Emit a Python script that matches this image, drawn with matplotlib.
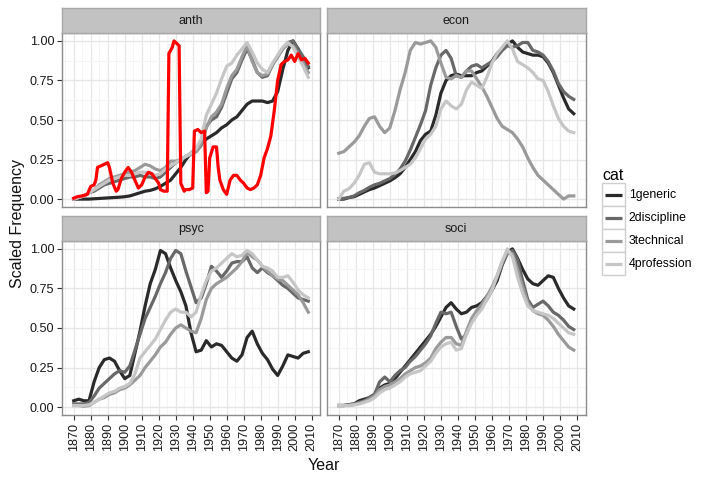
import matplotlib
matplotlib.use('Agg')
import matplotlib.pyplot as plt
from matplotlib.legend_handler import HandlerLine2D
from matplotlib.patches import Rectangle
from matplotlib.lines import Line2D
import numpy as np

plt.rcParams['font.family'] = ['Liberation Sans', 'DejaVu Sans']

# common year grid (every 3 years)
YEARS = list(range(1870, 2009, 3))

CATS = ['1generic', '2discipline', '3technical', '4profession']
PANELS = ['anth', 'econ', 'psyc', 'soci']

anth_generic = [0.0, 0.0, 0.0, 0.0, 0.002, 0.004, 0.006, 0.008, 0.01, 0.012, 0.015, 0.02, 0.03, 0.04,
                0.05, 0.055, 0.065, 0.08, 0.1, 0.12, 0.16, 0.2, 0.25, 0.29, 0.32, 0.35, 0.38, 0.4, 0.42,
                0.45, 0.47, 0.5, 0.52, 0.56, 0.6, 0.62, 0.62, 0.62, 0.61, 0.62, 0.68, 0.82, 0.94, 1.0,
                0.95, 0.88, 0.83]
anth_discipline = [0.0, 0.01, 0.02, 0.04, 0.05, 0.07, 0.09, 0.1, 0.11, 0.12, 0.13, 0.14, 0.14, 0.15,
                   0.14, 0.14, 0.13, 0.14, 0.17, 0.2, 0.23, 0.25, 0.27, 0.29, 0.3, 0.34, 0.46, 0.5, 0.52,
                   0.58, 0.67, 0.76, 0.8, 0.88, 0.95, 0.88, 0.8, 0.77, 0.78, 0.85, 0.9, 0.95, 0.99, 1.0,
                   0.95, 0.9, 0.84]
anth_technical = [0.0, 0.01, 0.02, 0.04, 0.06, 0.09, 0.11, 0.13, 0.14, 0.15, 0.16, 0.17, 0.18, 0.2,
                  0.22, 0.21, 0.19, 0.18, 0.2, 0.24, 0.24, 0.25, 0.27, 0.28, 0.3, 0.35, 0.45, 0.52, 0.55,
                  0.6, 0.7, 0.78, 0.82, 0.9, 0.97, 0.87, 0.8, 0.78, 0.79, 0.85, 0.9, 0.95, 0.98, 0.97,
                  0.92, 0.86, 0.8]
anth_profession = [0.0, 0.01, 0.02, 0.04, 0.06, 0.08, 0.1, 0.12, 0.13, 0.14, 0.15, 0.15, 0.16, 0.17,
                   0.17, 0.16, 0.15, 0.16, 0.19, 0.21, 0.23, 0.25, 0.27, 0.29, 0.32, 0.38, 0.53, 0.6, 0.67,
                   0.76, 0.84, 0.86, 0.91, 0.95, 0.99, 0.93, 0.86, 0.82, 0.8, 0.86, 0.91, 0.96, 0.99, 0.96,
                   0.9, 0.84, 0.77]

econ_generic = [0.0, 0.0, 0.01, 0.015, 0.03, 0.045, 0.06, 0.07, 0.085, 0.1, 0.115, 0.135, 0.16, 0.2,
                0.25, 0.3, 0.37, 0.41, 0.43, 0.53, 0.67, 0.75, 0.78, 0.79, 0.78, 0.78, 0.78, 0.8, 0.81,
                0.84, 0.87, 0.92, 0.95, 0.98, 1.0, 0.96, 0.93, 0.92, 0.91, 0.91, 0.9, 0.86, 0.8, 0.72,
                0.64, 0.57, 0.54]
econ_discipline = [0.0, 0.005, 0.01, 0.02, 0.04, 0.055, 0.075, 0.09, 0.1, 0.115, 0.13, 0.155, 0.19, 0.24,
                   0.31, 0.39, 0.47, 0.56, 0.72, 0.83, 0.91, 0.94, 0.89, 0.78, 0.77, 0.81, 0.84, 0.85, 0.83,
                   0.85, 0.87, 0.9, 0.94, 0.97, 0.96, 0.97, 0.99, 0.99, 0.94, 0.93, 0.91, 0.87, 0.81, 0.73,
                   0.68, 0.65, 0.63]
econ_technical = [0.29, 0.3, 0.33, 0.36, 0.4, 0.46, 0.51, 0.52, 0.46, 0.42, 0.45, 0.56, 0.69, 0.8,
                  0.94, 0.99, 0.98, 0.99, 1.0, 0.96, 0.86, 0.77, 0.76, 0.78, 0.77, 0.81, 0.81, 0.76, 0.71,
                  0.65, 0.58, 0.51, 0.46, 0.44, 0.42, 0.38, 0.33, 0.26, 0.2, 0.15, 0.12, 0.09, 0.06, 0.03,
                  0.0, 0.02, 0.02]
econ_profession = [0.0, 0.05, 0.065, 0.1, 0.15, 0.22, 0.23, 0.17, 0.16, 0.16, 0.16, 0.165, 0.18, 0.2,
                   0.22, 0.26, 0.32, 0.38, 0.41, 0.46, 0.57, 0.62, 0.59, 0.57, 0.6, 0.69, 0.74, 0.72, 0.7,
                   0.77, 0.86, 0.92, 0.96, 1.0, 0.95, 0.87, 0.85, 0.83, 0.8, 0.76, 0.75, 0.68, 0.59, 0.51,
                   0.46, 0.43, 0.42]

psyc_generic = [0.04, 0.05, 0.04, 0.04, 0.16, 0.25, 0.3, 0.31, 0.29, 0.23, 0.18, 0.2, 0.34, 0.48,
                0.64, 0.78, 0.87, 0.99, 0.97, 0.88, 0.8, 0.73, 0.64, 0.47, 0.35, 0.36, 0.42, 0.38, 0.4,
                0.39, 0.35, 0.31, 0.29, 0.33, 0.44, 0.48, 0.4, 0.34, 0.3, 0.24, 0.2, 0.26, 0.33, 0.32,
                0.31, 0.34, 0.35]
psyc_discipline = [0.02, 0.02, 0.02, 0.03, 0.07, 0.12, 0.15, 0.18, 0.21, 0.23, 0.22, 0.26, 0.36, 0.46,
                   0.56, 0.63, 0.7, 0.78, 0.85, 0.94, 0.99, 0.97, 0.86, 0.76, 0.66, 0.69, 0.78, 0.89, 0.86,
                   0.82, 0.86, 0.91, 0.92, 0.92, 0.95, 0.88, 0.85, 0.88, 0.85, 0.83, 0.8, 0.77, 0.75, 0.72,
                   0.69, 0.68, 0.67]
psyc_technical = [0.01, 0.01, 0.005, 0.01, 0.03, 0.05, 0.06, 0.08, 0.09, 0.11, 0.12, 0.14, 0.17, 0.2,
                  0.25, 0.29, 0.33, 0.38, 0.41, 0.46, 0.5, 0.52, 0.5, 0.48, 0.47, 0.56, 0.68, 0.75, 0.78,
                  0.8, 0.82, 0.85, 0.88, 0.92, 0.98, 0.95, 0.93, 0.89, 0.86, 0.83, 0.81, 0.8, 0.77, 0.74,
                  0.71, 0.66, 0.6]
psyc_profession = [0.01, 0.01, 0.01, 0.015, 0.03, 0.05, 0.07, 0.09, 0.1, 0.12, 0.13, 0.15, 0.21, 0.31,
                   0.35, 0.39, 0.43, 0.49, 0.55, 0.6, 0.62, 0.6, 0.6, 0.57, 0.6, 0.71, 0.8, 0.86, 0.88,
                   0.91, 0.94, 0.97, 0.95, 0.96, 0.99, 0.97, 0.93, 0.89, 0.88, 0.86, 0.82, 0.82, 0.83, 0.79,
                   0.74, 0.71, 0.69]

soci_generic = [0.01, 0.01, 0.015, 0.02, 0.04, 0.05, 0.06, 0.08, 0.12, 0.14, 0.15, 0.18, 0.22, 0.26,
                0.3, 0.34, 0.38, 0.42, 0.46, 0.51, 0.57, 0.63, 0.66, 0.62, 0.59, 0.6, 0.63, 0.64, 0.66,
                0.7, 0.74, 0.8, 0.9, 0.98, 1.0, 0.94, 0.87, 0.81, 0.78, 0.77, 0.8, 0.83, 0.82, 0.75,
                0.69, 0.64, 0.62]
soci_discipline = [0.01, 0.01, 0.015, 0.02, 0.03, 0.04, 0.06, 0.08, 0.16, 0.19, 0.16, 0.2, 0.23, 0.25,
                   0.29, 0.32, 0.36, 0.4, 0.45, 0.53, 0.6, 0.59, 0.6, 0.51, 0.43, 0.46, 0.55, 0.6, 0.64,
                   0.68, 0.74, 0.82, 0.9, 0.97, 0.99, 0.93, 0.8, 0.68, 0.63, 0.65, 0.67, 0.64, 0.6, 0.58,
                   0.55, 0.51, 0.49]
soci_technical = [0.01, 0.01, 0.01, 0.015, 0.025, 0.035, 0.05, 0.07, 0.11, 0.13, 0.14, 0.16, 0.18, 0.21,
                  0.23, 0.25, 0.26, 0.28, 0.31, 0.37, 0.41, 0.44, 0.44, 0.4, 0.39, 0.48, 0.56, 0.61, 0.65,
                  0.7, 0.76, 0.83, 0.92, 0.98, 0.97, 0.87, 0.76, 0.66, 0.61, 0.59, 0.58, 0.55, 0.51, 0.46,
                  0.42, 0.38, 0.36]
soci_profession = [0.01, 0.01, 0.01, 0.015, 0.02, 0.03, 0.04, 0.06, 0.09, 0.11, 0.12, 0.14, 0.16, 0.19,
                   0.21, 0.22, 0.23, 0.26, 0.29, 0.34, 0.38, 0.4, 0.41, 0.36, 0.37, 0.46, 0.53, 0.58, 0.62,
                   0.68, 0.74, 0.83, 0.92, 1.0, 0.95, 0.82, 0.72, 0.64, 0.61, 0.6, 0.59, 0.58, 0.56, 0.53,
                   0.5, 0.47, 0.46]

# extra red series, anth panel only
red_years = [1870, 1872, 1875, 1878, 1880, 1882, 1883, 1884, 1886, 1888, 1890, 1891, 1893, 1895, 1896,
             1898, 1900, 1902, 1904, 1906, 1908, 1910, 1912, 1914, 1916, 1918, 1920, 1921, 1923, 1925,
             1926, 1928, 1929, 1931, 1932, 1933, 1935, 1936, 1938, 1940, 1941, 1943, 1945, 1947, 1948,
             1949, 1950, 1952, 1954, 1955, 1956, 1958, 1960, 1962, 1964, 1966, 1968, 1970, 1972, 1974,
             1976, 1978, 1980, 1982, 1984, 1986, 1988, 1990, 1992, 1994, 1996, 1998, 2000, 2002, 2004,
             2006, 2008]
red_values = [0.005, 0.015, 0.02, 0.03, 0.08, 0.09, 0.12, 0.2, 0.21, 0.22, 0.23, 0.2, 0.1, 0.05, 0.06,
              0.13, 0.17, 0.2, 0.17, 0.12, 0.07, 0.09, 0.14, 0.17, 0.16, 0.13, 0.1, 0.06, 0.05, 0.05,
              0.92, 0.96, 1.0, 0.98, 0.97, 0.1, 0.05, 0.06, 0.06, 0.07, 0.43, 0.44, 0.42, 0.43, 0.04,
              0.05, 0.26, 0.33, 0.33, 0.2, 0.12, 0.06, 0.03, 0.12, 0.15, 0.15, 0.12, 0.1, 0.07, 0.06,
              0.07, 0.09, 0.15, 0.26, 0.32, 0.4, 0.56, 0.75, 0.85, 0.87, 0.88, 0.91, 0.87, 0.92, 0.88,
              0.89, 0.86]

DATA = {
    'anth': [anth_generic, anth_discipline, anth_technical, anth_profession],
    'econ': [econ_generic, econ_discipline, econ_technical, econ_profession],
    'psyc': [psyc_generic, psyc_discipline, psyc_technical, psyc_profession],
    'soci': [soci_generic, soci_discipline, soci_technical, soci_profession],
}
COLORS = ['#2a2a2a', '#686868', '#9a9a9a', '#c6c6c6']
LW = 2.3


class KeyHandler(HandlerLine2D):
    """ggplot-like legend key: bordered white box with a short line."""
    def create_artists(self, legend, orig_handle, xdescent, ydescent, width, height, fontsize, trans):
        box = Rectangle((-xdescent, -ydescent), width, height, facecolor='white',
                        edgecolor='#cfcfcf', lw=1.0, transform=trans)
        y = height / 2 - ydescent
        line = Line2D([-xdescent + width * 0.12, -xdescent + width * 0.88], [y, y],
                      color=orig_handle.get_color(), lw=orig_handle.get_linewidth(),
                      solid_capstyle='butt', transform=trans)
        return [box, line]


fig = plt.figure(figsize=(7.2, 4.8), dpi=100)
W, H = 720.0, 480.0

# panel boxes in pixels: left, top(plot area), right, bottom
boxes = {
    'anth': (62, 33, 320, 207),
    'econ': (327, 33, 585.5, 207),
    'psyc': (62, 241, 320, 415),
    'soci': (327, 241, 585.5, 415),
}
STRIP_H = 25

handles = []
for name in PANELS:
    l, t, r, b = boxes[name]
    ax = fig.add_axes([l / W, 1 - b / H, (r - l) / W, (b - t) / H])
    sx = fig.add_axes([l / W, 1 - t / H, (r - l) / W, STRIP_H / H])
    sx.set_facecolor('#c2c2c2')
    sx.set_xticks([]); sx.set_yticks([])
    for sp in sx.spines.values():
        sp.set_color('#a8a8a8'); sp.set_linewidth(1.0)
    sx.text(0.5, 0.47, name, ha='center', va='center', fontsize=9, color='#1a1a1a',
            transform=sx.transAxes)

    for vals, color, cat in zip(DATA[name], COLORS, CATS):
        ln, = ax.plot(YEARS, vals, color=color, lw=LW, label=cat, solid_joinstyle='round')
        if name == 'anth':
            handles.append(ln)
    if name == 'anth':
        ax.plot(red_years, red_values, color='#ff0000', lw=LW, solid_joinstyle='round')

    ax.set_xlim(1863.1, 2014.9)
    ax.set_ylim(-0.05, 1.05)
    ax.set_xticks(np.arange(1870, 2011, 10))
    ax.set_xticks(np.arange(1865, 2015, 10), minor=True)
    ax.set_yticks([0, 0.25, 0.5, 0.75, 1.0])
    ax.set_yticks([0.125, 0.375, 0.625, 0.875], minor=True)
    ax.grid(which='major', color='#e6e6e6', lw=0.9)
    ax.grid(which='minor', color='#f4f4f4', lw=0.6)
    ax.set_axisbelow(True)
    for sp in ax.spines.values():
        sp.set_color('#8c8c8c'); sp.set_linewidth(1.0)
    ax.tick_params(which='minor', length=0)
    ax.tick_params(which='major', length=3.5, width=0.8, color='#333333',
                   labelsize=9.1, labelcolor='#1a1a1a', pad=2)
    if name in ('anth', 'econ'):
        ax.tick_params(axis='x', which='major', length=0, labelbottom=False)
    else:
        ax.set_xticklabels([str(y) for y in range(1870, 2011, 10)], rotation=90)
    if name in ('econ', 'soci'):
        ax.tick_params(axis='y', which='major', length=0, labelleft=False)
    else:
        ax.set_yticklabels(['0.00', '0.25', '0.50', '0.75', '1.00'])

fig.text(18 / W, 1 - 224 / H, 'Scaled Frequency', rotation=90, ha='center', va='center',
         fontsize=11.5, color='#111111')
fig.text(324 / W, 1 - 465 / H, 'Year', ha='center', va='center', fontsize=11.5, color='#111111')

leg = fig.legend(handles=handles, labels=CATS, loc='upper left',
                 bbox_to_anchor=(602 / W, 1 - 168 / H), frameon=False, title='cat',
                 fontsize=8.8, title_fontsize=11.5, handler_map={Line2D: KeyHandler()},
                 handlelength=1.88, handleheight=2.52, labelspacing=0.0, handletextpad=0.3,
                 borderpad=0.0, borderaxespad=0.0, alignment='left')

fig.savefig('out.png', dpi=100)
